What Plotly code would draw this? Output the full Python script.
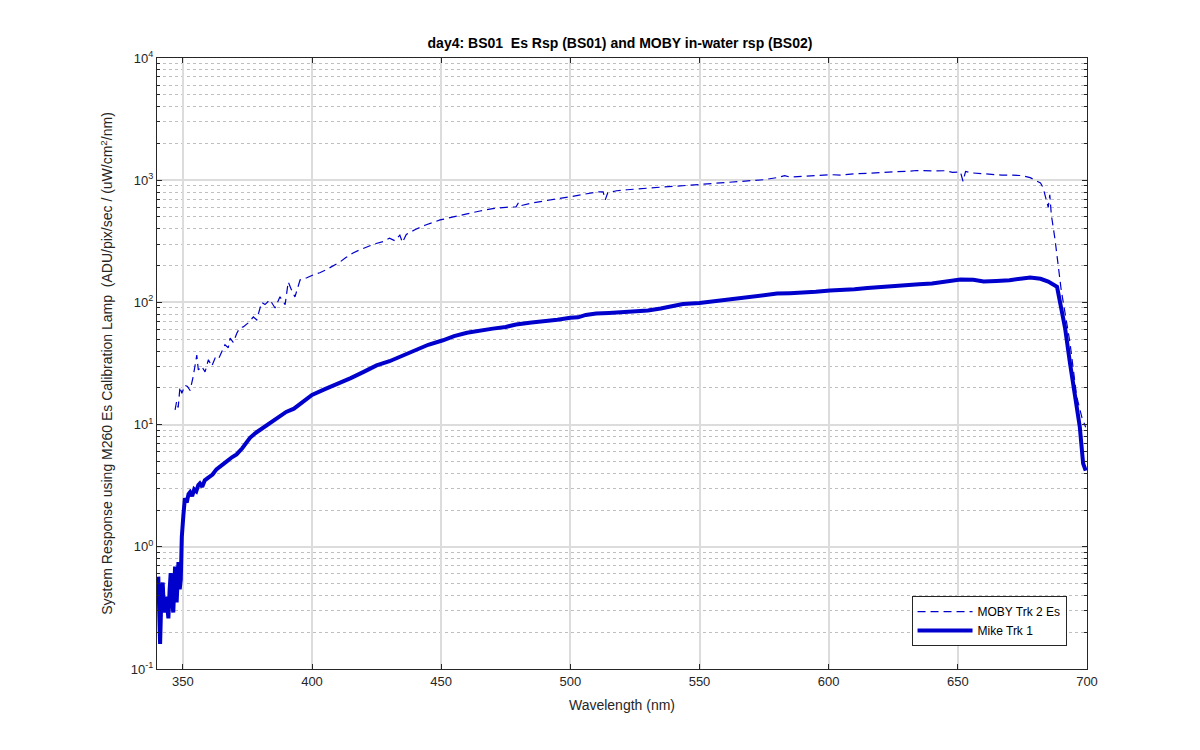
import plotly.graph_objects as go

# ---------------- data ----------------
moby_wl = [347.0, 347.6, 348.2, 348.9, 349.6, 350.2, 350.8, 351.8, 352.8, 354.0, 355.4, 356.0,
           357.3, 358.6, 359.9, 361.2, 362.5, 363.7, 365.0, 366.3, 367.6, 368.3, 369.5, 370.9,
           372.1, 373.4, 375.3, 377.3, 378.6, 380.5, 381.8, 383.7, 385.7, 387.6, 389.6, 390.8,
           392.1, 393.4, 395.4, 398.0, 400.5, 403.0, 405.7, 408.0, 410.8, 413.0, 415.9, 418.6,
           421.0, 424.0, 427.5, 430.0, 432.0, 434.0, 435.0, 436.5, 440.0, 444.0, 449.6, 455.0,
           460.0, 465.0, 470.0, 475.0, 479.0, 480.0, 481.0, 485.0, 490.0, 495.0, 500.0, 505.0,
           510.0, 512.7, 513.5, 514.5, 518.0, 522.0, 526.0, 531.0, 536.0, 540.0, 545.0, 549.0,
           555.0, 560.0, 565.0, 570.0, 575.0, 580.0, 583.0, 585.0, 590.0, 595.0, 600.5, 605.0,
           610.0, 615.0, 620.0, 625.0, 630.0, 634.0, 640.0, 645.0, 648.0, 651.0, 652.0, 653.0,
           655.0, 658.6, 663.0, 667.0, 671.0, 675.0, 678.0, 680.0, 682.0, 683.0, 684.0, 685.0,
           685.6, 686.2, 687.6, 690.0, 693.4, 696.0, 698.0, 699.5]
moby_val = [13.2, 15.5, 13.8, 20.4, 18.0, 19.5, 21.0, 20.5, 19.0, 24.7, 37.0, 28.0,
            30.0, 27.0, 34.0, 30.0, 35.0, 34.0, 39.0, 45.0, 42.6, 51.0, 47.0, 56.0,
            62.0, 63.0, 68.0, 76.0, 72.0, 100.0, 96.0, 105.0, 90.0, 111.0, 96.0, 147.0,
            126.0, 111.0, 153.0, 159.0, 168.0, 175.0, 186.0, 198.0, 214.0, 232.0, 254.0, 270.0,
            282.0, 300.0, 314.0, 335.0, 320.0, 355.0, 310.0, 360.0, 395.0, 430.0, 473.0, 505.0,
            530.0, 560.0, 585.0, 600.0, 605.0, 660.0, 620.0, 650.0, 680.0, 705.0, 732.0, 770.0,
            800.0, 804.0, 690.0, 790.0, 820.0, 835.0, 850.0, 865.0, 880.0, 890.0, 905.0, 915.0,
            935.0, 950.0, 965.0, 990.0, 1010.0, 1050.0, 1090.0, 1060.0, 1080.0, 1095.0, 1110.0, 1100.0,
            1130.0, 1140.0, 1160.0, 1170.0, 1180.0, 1200.0, 1190.0, 1195.0, 1160.0, 1170.0, 980.0, 1180.0,
            1150.0, 1130.0, 1110.0, 1100.0, 1100.0, 1090.0, 1050.0, 1000.0, 950.0, 870.0, 700.0, 600.0,
            760.0, 520.0, 330.0, 127.0, 47.0, 17.0, 11.5, 9.5]

mike_wl = [340.5, 341.2, 341.7, 342.2, 342.6, 343.1, 343.7, 344.4, 344.9, 345.3, 345.8, 346.3,
           347.0, 347.6, 348.3, 348.8, 349.2, 349.6, 350.2, 350.8, 351.5, 352.2, 352.8, 353.6,
           354.4, 355.2, 356.0, 356.6, 357.5, 358.5, 360.0, 361.5, 363.0, 365.0, 367.0, 369.0,
           370.8, 373.0, 376.0, 378.0, 380.0, 383.0, 386.0, 390.0, 393.0, 396.0, 400.0, 405.0,
           410.0, 415.0, 420.0, 425.0, 430.0, 434.0, 440.0, 445.0, 450.7, 455.0, 460.0, 465.0,
           470.0, 475.0, 479.0, 485.0, 490.0, 495.0, 500.0, 503.0, 506.0, 510.0, 515.0, 520.0,
           524.0, 530.0, 535.0, 540.0, 543.6, 550.0, 555.0, 560.0, 565.0, 570.0, 575.0, 580.0,
           585.0, 590.0, 595.0, 600.5, 605.0, 610.0, 615.0, 620.0, 625.0, 630.0, 635.0, 640.0,
           645.0, 651.0, 656.0, 660.0, 665.0, 670.0, 675.0, 678.0, 682.0, 685.0, 688.4, 689.5,
           691.5, 693.4, 695.5, 697.2, 698.5, 699.5]
mike_val = [0.57, 0.16, 0.40, 0.51, 0.33, 0.29, 0.39, 0.26, 0.45, 0.61, 0.38, 0.29,
            0.69, 0.35, 0.75, 0.45, 0.54, 1.20, 1.80, 2.50, 2.30, 2.70, 2.80, 2.60,
            2.95, 2.85, 3.20, 3.30, 3.10, 3.50, 3.70, 3.90, 4.30, 4.60, 5.00, 5.40,
            5.70, 6.40, 7.80, 8.50, 9.10, 10.0, 11.0, 12.7, 13.5, 15.0, 17.5, 19.5,
            21.5, 24.0, 27.0, 30.5, 33.0, 36.0, 41.0, 45.0, 49.0, 53.0, 56.5, 59.0,
            61.0, 63.0, 66.0, 68.5, 70.0, 72.0, 75.0, 75.5, 79.0, 81.0, 82.0, 83.0,
            84.0, 86.0, 89.0, 93.0, 97.0, 99.0, 102.0, 104.0, 108.0, 110.0, 113.0, 118.0,
            119.0, 120.0, 122.0, 125.0, 126.0, 128.0, 131.0, 134.0, 137.0, 140.0, 141.0, 143.0,
            148.0, 154.0, 153.0, 148.0, 150.0, 152.0, 157.0, 160.0, 156.0, 148.0, 134.0, 105.0,
            62.0, 32.0, 17.0, 9.6, 4.8, 4.2]

x_ticks = [350, 400, 450, 500, 550, 600, 650, 700]
y_ticks = [0.1, 1, 10, 100, 1000, 10000]
y_tick_text = ["10<sup>-1</sup>", "10<sup>0</sup>", "10<sup>1</sup>", "10<sup>2</sup>",
               "10<sup>3</sup>", "10<sup>4</sup>"]
y_minor = [m * d for d in [0.1, 1, 10, 100, 1000] for m in range(2, 10)]

line_color = "rgb(0,0,204)"
ax_color = "#262626"
font_family = "Liberation Sans, Arial, sans-serif"

fig = go.Figure()
fig.add_trace(go.Scatter(x=moby_wl, y=moby_val, mode="lines", name="MOBY Trk 2 Es",
                         line=dict(color=line_color, width=1.2, dash="8px,5px")))
fig.add_trace(go.Scatter(x=mike_wl, y=mike_val, mode="lines", name="Mike Trk 1",
                         line=dict(color=line_color, width=4)))

fig.update_layout(
    width=1200, height=750,
    paper_bgcolor="white", plot_bgcolor="white",
    margin=dict(l=149, r=121, t=50, b=89),
    font=dict(family=font_family, size=13, color=ax_color),
    title=dict(text="<b>day4: BS01\u00a0 Es Rsp (BS01) and MOBY in-water rsp (BS02)</b>",
               x=0.51, xanchor="center", y=0.953, yanchor="middle",
               font=dict(size=14, color="black")),
    legend=dict(x=0.978, y=0.0376, xanchor="right", yanchor="bottom",
                bgcolor="white", bordercolor=ax_color, borderwidth=1,
                font=dict(size=12, color="black"), tracegroupgap=0,
                itemwidth=55),
    showlegend=True,
)

fig.update_xaxes(
    range=[340, 700], tickvals=x_ticks, ticks="inside", ticklen=5, tickcolor=ax_color,
    showline=True, linecolor=ax_color, linewidth=1, mirror="ticks",
    showgrid=True, gridcolor="#dcdcdc", gridwidth=1.5, zeroline=False,
    title=dict(text="Wavelength (nm)", font=dict(size=14, color=ax_color), standoff=12),
    tickfont=dict(size=13, color=ax_color),
)
fig.update_yaxes(
    type="log", range=[-1, 4], tickvals=y_ticks, ticktext=y_tick_text,
    ticks="inside", ticklen=5, tickcolor=ax_color,
    showline=True, linecolor=ax_color, linewidth=1, mirror="ticks",
    showgrid=True, gridcolor="#dcdcdc", gridwidth=1.5, zeroline=False,
    minor=dict(tickvals=y_minor, ticks="inside", ticklen=3, tickcolor=ax_color,
               showgrid=True, gridcolor="#bfbfbf", griddash="dot", gridwidth=1),
    title=dict(text="System Response using M260 Es Calibration Lamp  (ADU/pix/sec / (uW/cm<sup>2</sup>/nm)",
               font=dict(size=14, color=ax_color), standoff=14),
    tickfont=dict(size=13, color=ax_color),
)

fig.write_html("out.html")
